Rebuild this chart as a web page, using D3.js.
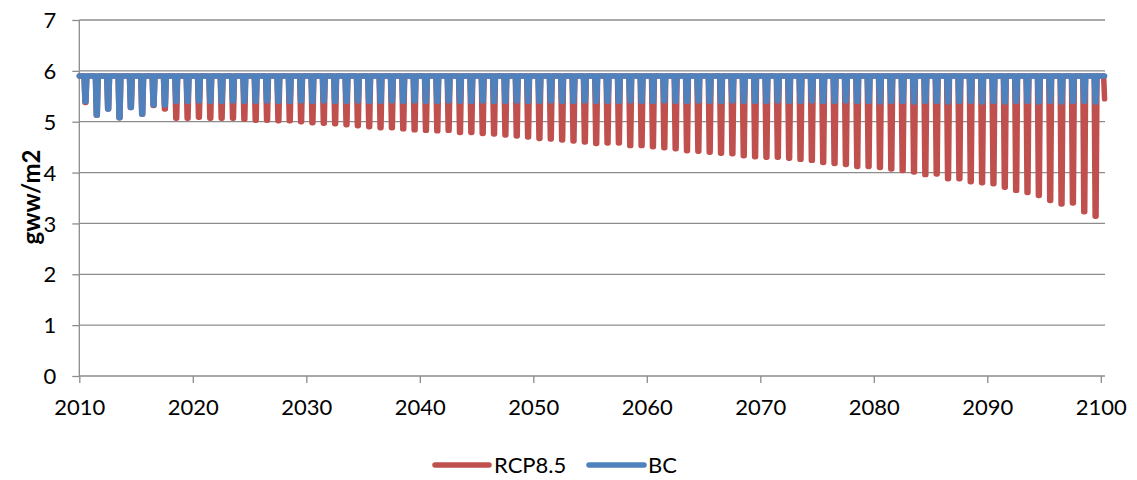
<!DOCTYPE html>
<html>
<head>
<meta charset="utf-8">
<script src="https://cdn.jsdelivr.net/npm/d3@7"></script>
<style>
  html, body { margin: 0; padding: 0; background: #fff; }
  svg { display: block; font-family: Lato, "Open Sans", sans-serif; }
</style>
</head>
<body>
<svg id="chart" width="1137" height="480"></svg>
<script>
// ---------- data ----------
const seriesNames = ["RCP8.5", "BC"];
const years = d3.range(2010, 2100); // full years 2010..2099
const plateau = 5.9;                 // value outside the yearly dip
// yearly minimum (dip) of each series, 2010..2099
const rcpMin = [
  5.38, 5.13, 5.25, 5.08, 5.28, 5.15, 5.32, 5.25, 5.07, 5.07,
  5.09, 5.07, 5.07, 5.07, 5.05, 5.03, 5.03, 5.02, 5.02, 5.00,
  4.98, 4.97, 4.96, 4.94, 4.92, 4.90, 4.88, 4.88, 4.86, 4.84,
  4.83, 4.82, 4.83, 4.79, 4.79, 4.77, 4.76, 4.74, 4.72, 4.70,
  4.67, 4.66, 4.64, 4.62, 4.60, 4.57, 4.58, 4.58, 4.53, 4.53,
  4.51, 4.49, 4.47, 4.43, 4.42, 4.40, 4.38, 4.37, 4.33, 4.31,
  4.30, 4.30, 4.28, 4.26, 4.24, 4.20, 4.18, 4.16, 4.12, 4.12,
  4.10, 4.07, 4.04, 4.01, 3.96, 3.97, 3.88, 3.88, 3.82, 3.80,
  3.78, 3.71, 3.65, 3.61, 3.55, 3.45, 3.38, 3.40, 3.23, 3.14
];
const bcMin = [
  5.40, 5.13, 5.25, 5.08, 5.28, 5.15, 5.33, 5.33, 5.40, 5.40,
  5.41, 5.40, 5.40, 5.41, 5.40, 5.40, 5.41, 5.40, 5.40, 5.41,
  5.40, 5.41, 5.40, 5.40, 5.41, 5.40, 5.40, 5.41, 5.40, 5.41,
  5.40, 5.40, 5.41, 5.40, 5.40, 5.41, 5.40, 5.40, 5.41, 5.40,
  5.40, 5.41, 5.40, 5.40, 5.41, 5.40, 5.40, 5.40, 5.41, 5.40,
  5.40, 5.41, 5.40, 5.40, 5.41, 5.40, 5.40, 5.41, 5.40, 5.40,
  5.40, 5.41, 5.40, 5.40, 5.41, 5.40, 5.40, 5.41, 5.40, 5.40,
  5.39, 5.40, 5.40, 5.39, 5.40, 5.40, 5.39, 5.40, 5.40, 5.39,
  5.40, 5.39, 5.40, 5.40, 5.39, 5.40, 5.39, 5.40, 5.40, 5.39
];
// partial final year 2100 (Jan..May)
const rcp2100 = [5.9, 5.9, 5.9, 5.9, 5.45];
const bc2100  = [5.9, 5.9, 5.9, 5.9, 5.9];
const dipMonths = [6, 7];   // months of the yearly low
const xTicks = [2010, 2020, 2030, 2040, 2050, 2060, 2070, 2080, 2090, 2100];
const yTicks = [0, 1, 2, 3, 4, 5, 6, 7];
const colors = ["#C0504D", "#4F81BD"];

// ---------- build monthly series ----------
function buildSeries(mins, last) {
  const pts = [];
  years.forEach((y, i) => {
    for (let m = 0; m < 12; m++) {
      pts.push({ t: y + m / 12, v: dipMonths.includes(m) ? mins[i] : plateau });
    }
  });
  last.forEach((v, m) => pts.push({ t: 2100 + m / 12, v }));
  return pts;
}
const data = [buildSeries(rcpMin, rcp2100), buildSeries(bcMin, bc2100)];

// ---------- scales ----------
const svg = d3.select("#chart");
const x = d3.scaleLinear().domain([2010, 2100.37]).range([79.3, 1105]);
const y = d3.scaleLinear().domain([0, 7]).range([376, 20]);
const gridColor = "#8c8c8c";

// gridlines
svg.append("g").selectAll("line").data(yTicks.filter(d => d > 0)).join("line")
  .attr("x1", x.range()[0]).attr("x2", x.range()[1])
  .attr("y1", d => y(d)).attr("y2", d => y(d))
  .attr("stroke", gridColor).attr("stroke-width", 1.3);

// y axis
const yAxis = svg.append("g").attr("transform", `translate(${x.range()[0]},0)`)
  .call(d3.axisLeft(y).tickValues(yTicks).tickSize(7).tickPadding(16).tickFormat(d3.format("d")));
// x axis
const xAxis = svg.append("g").attr("transform", `translate(0,${y(0)})`)
  .call(d3.axisBottom(x).tickValues(xTicks).tickSize(7).tickPadding(16).tickFormat(d3.format("d")));
[yAxis, xAxis].forEach(g => {
  g.select(".domain").attr("stroke", gridColor).attr("stroke-width", 1.3);
  g.selectAll(".tick line").attr("stroke", gridColor).attr("stroke-width", 1.3);
  g.selectAll("text").attr("font-size", 22).attr("fill", "#000").attr("font-family", "Lato, sans-serif");
});
yAxis.selectAll("text").attr("dy", "0.35em");
xAxis.selectAll(".tick text").attr("dy", "0.71em");
xAxis.select(".domain").attr("d", `M${x.range()[0]},0H${x.range()[1]}`);
yAxis.select(".domain").attr("d", `M0,${y(0)}V${y(7)}`);

// series
const line = d3.line().x(d => x(d.t)).y(d => y(d.v));
svg.append("g").selectAll("path").data(data).join("path")
  .attr("d", line)
  .attr("fill", "none")
  .attr("stroke", (d, i) => colors[i])
  .attr("stroke-width", 5.5)
  .attr("stroke-linejoin", "round")
  .attr("stroke-linecap", "round");

// y title
svg.append("text")
  .attr("transform", "translate(30,197) rotate(-90)")
  .attr("text-anchor", "middle").attr("dominant-baseline", "central")
  .attr("font-size", 24).attr("font-weight", "bold").attr("fill", "#000")
  .text("gww/m2");

// legend
const legendItems = [
  { name: seriesNames[0], color: colors[0], x1: 435, x2: 489, tx: 494 },
  { name: seriesNames[1], color: colors[1], x1: 589, x2: 644, tx: 648 }
];
const lg = svg.append("g");
legendItems.forEach(it => {
  lg.append("line").attr("x1", it.x1).attr("x2", it.x2).attr("y1", 465).attr("y2", 465)
    .attr("stroke", it.color).attr("stroke-width", 5.5).attr("stroke-linecap", "round");
  lg.append("text").attr("x", it.tx).attr("y", 465).attr("dy", "0.35em")
    .attr("font-size", 22).attr("fill", "#000").text(it.name);
});
</script>
</body>
</html>
